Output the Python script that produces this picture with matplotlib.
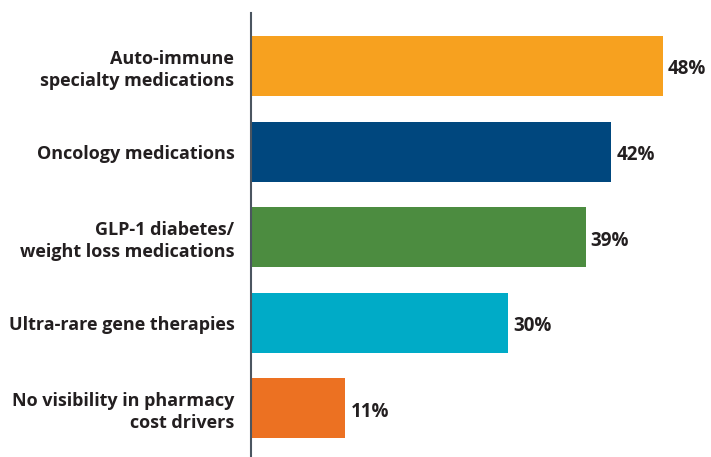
import matplotlib
matplotlib.use("Agg")
import matplotlib.pyplot as plt

categories = ["Auto-immune\nspecialty medications", "Oncology medications",
              "GLP-1 diabetes/\nweight loss medications", "Ultra-rare gene therapies",
              "No visibility in pharmacy\ncost drivers"]
values = [48, 42, 39, 30, 11]
colors = ["#F7A11F", "#00477E", "#4C8C40", "#00ABC7", "#EC7122"]

plt.rcParams['font.family'] = ['Open Sans', 'DejaVu Sans']

fig = plt.figure(figsize=(7.11, 4.57), dpi=100)
ax = fig.add_axes([251 / 711, 0, 460 / 711, 444 / 457])

pos = range(len(values))
ax.barh(pos, values, height=0.70, color=colors)
for p, v in zip(pos, values):
    ax.text(v + 0.6, p + 0.04, f"{v}%", va="center", ha="left", fontsize=13.5,
            fontweight="bold", color="#231f20")

ax.set_xlim(0, 460 / 8.58)
ax.set_ylim(4.57, -0.62)
ax.set_yticks(list(pos))
ax.set_yticklabels(categories, fontsize=13, fontweight="bold", color="#231f20",
                   linespacing=1.25)
ax.tick_params(axis="y", length=0, pad=12)
ax.set_xticks([])
for s in ["top", "right", "bottom"]:
    ax.spines[s].set_visible(False)
ax.spines["left"].set_color("#4b5560")
ax.spines["left"].set_linewidth(1.5)

fig.savefig("out.png", dpi=100)
